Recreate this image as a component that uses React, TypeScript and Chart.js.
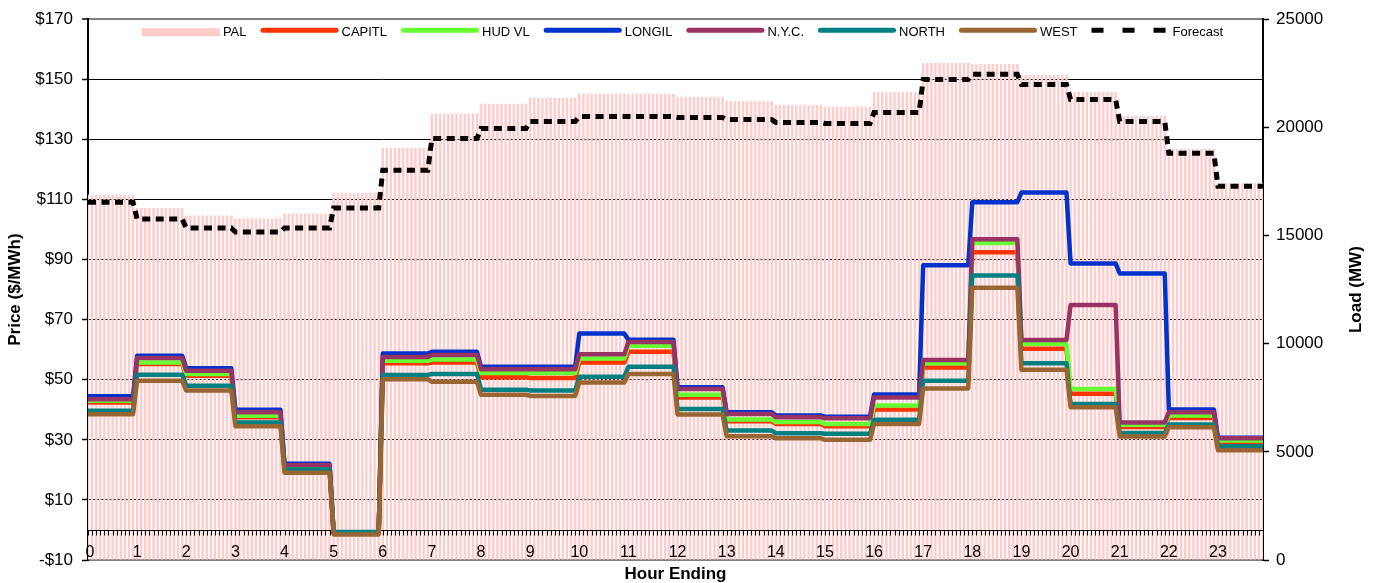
import React, { useEffect, useRef } from "react";
import { Chart, registerables } from "chart.js";

Chart.register(...registerables);

const FONT = "'Liberation Sans', Arial, Helvetica, sans-serif";

// Hour labels on the category axis (hour ending)
const HOUR_LABELS = [
  "0", "1", "2", "3", "4", "5", "6", "7", "8", "9", "10", "11",
  "12", "13", "14", "15", "16", "17", "18", "19", "20", "21", "22", "23",
];
const INTERVALS_PER_HOUR = 12; // 5-minute intervals

// Load (MW), right axis
const PAL = [
  16880, 16270, 15930, 15790, 16020, 16980, 19060, 20630, 21090, 21360, 21550, 21550,
  21410, 21220, 21040, 20950, 21640, 22970, 22930, 22420, 21640, 20530, 19000, 17420,
];
const FORECAST = [
  16540, 15760, 15350, 15160, 15350, 16270, 18020, 19480, 19950, 20270, 20500, 20500,
  20460, 20360, 20230, 20180, 20690, 22210, 22450, 21980, 21290, 20270, 18800, 17280,
];

// Prices ($/MWh), left axis
const CAPITL = [
  42.4, 55.2, 51.3, 37.5, 20.8, -1.0, 55.5, 55.7, 50.8, 50.6, 55.7, 59.3,
  44.1, 36.2, 35.3, 34.5, 40.1, 54.1, 92.4, 60.3, 45.3, 34.3, 37.3, 28.9,
];
const HUD_VL = [
  43.0, 55.7, 51.9, 38.0, 21.0, -1.0, 56.3, 56.7, 52.2, 52.2, 57.1, 61.3,
  45.0, 36.8, 35.9, 35.3, 41.4, 55.5, 95.5, 62.0, 46.9, 35.0, 38.1, 29.8,
];
const LONGIL = [
  44.5, 58.0, 53.8, 40.0, 22.0, -1.0, 58.7, 59.3, 54.3, 54.3, 65.4, 63.3,
  47.5, 39.2, 38.1, 37.7, 45.1, 88.1, 109.1, 112.3, 88.7, 85.4, 40.1, 30.7,
];
const NYC = [
  43.5, 57.2, 53.0, 39.2, 21.5, -1.0, 57.6, 58.2, 53.5, 53.5, 58.5, 62.6,
  46.9, 38.6, 37.5, 37.2, 44.1, 56.6, 96.8, 63.2, 74.9, 35.8, 39.2, 30.5,
];
const NORTH = [
  39.7, 51.7, 48.0, 35.8, 20.1, -0.7, 51.6, 51.9, 46.7, 46.4, 51.0, 54.3,
  40.3, 33.1, 32.2, 32.0, 36.7, 49.7, 84.7, 55.5, 41.9, 32.3, 35.1, 27.9,
];
const WEST = [
  38.5, 49.7, 46.4, 34.5, 19.0, -1.5, 50.2, 49.3, 45.0, 44.6, 49.1, 51.9,
  38.4, 31.2, 30.5, 30.0, 35.3, 47.1, 80.6, 53.3, 40.8, 31.1, 34.2, 26.5,
];

const N_POINTS = HOUR_LABELS.length * INTERVALS_PER_HOUR;
const INDEX = Array.from({ length: N_POINTS }, (_, i) => i);
// each hourly value holds over its twelve 5-minute intervals
const expand = (hourly: number[]) =>
  INDEX.map((i) => ({ x: i, y: hourly[Math.floor(i / INTERVALS_PER_HOUR)] }));

const zeroAxisPlugin = {
  id: "zeroAxis",
  afterDatasetDraw(chart: any, args: any) {
    if (args.index !== 0) return;
    const { ctx, chartArea, scales } = chart;
    const y0 = Math.round(scales.y.getPixelForValue(0)) + 0.5;
    ctx.save();
    ctx.strokeStyle = "#000";
    ctx.lineWidth = 1;
    ctx.beginPath();
    ctx.moveTo(chartArea.left, y0);
    ctx.lineTo(chartArea.right, y0);
    INDEX.forEach((i) => {
      const x = Math.round(scales.x.getPixelForValue(i)) + 0.5;
      ctx.moveTo(x, y0);
      ctx.lineTo(x, y0 + 5);
    });
    ctx.stroke();
    ctx.restore();
  },
};

const hourLabelPlugin = {
  id: "hourLabels",
  afterDatasetsDraw(chart: any) {
    const { ctx, chartArea, scales } = chart;
    ctx.save();
    ctx.font = `16px ${FONT}`;
    ctx.fillStyle = "#000";
    ctx.textAlign = "center";
    ctx.textBaseline = "middle";
    HOUR_LABELS.forEach((lab, h) => {
      const x = scales.x.getPixelForValue(h * INTERVALS_PER_HOUR);
      ctx.fillText(lab, x + (h === 0 ? 2 : 0), chartArea.bottom - 7);
    });
    ctx.restore();
  },
};

const legendPlugin = {
  id: "insideLegend",
  afterDraw(chart: any) {
    const { ctx, chartArea } = chart;
    const swatch = 78;
    const textGap = 3;
    const itemGap = 14;
    ctx.save();
    ctx.font = `13px ${FONT}`;
    const items = chart.data.datasets.map((ds: any) => ({
      ds,
      w: swatch + textGap + ctx.measureText(ds.label).width,
    }));
    const total =
      items.reduce((s: number, it: any) => s + it.w, 0) + itemGap * (items.length - 1);
    let x = (chartArea.left + chartArea.right) / 2 + 7 - total / 2;
    const y = chartArea.top + 13;
    items.forEach(({ ds, w }: any) => {
      if (ds.type === "bar") {
        ctx.fillStyle = ds.backgroundColor;
        ctx.fillRect(x, y - 4, swatch, 8);
      } else {
        const dashed = Array.isArray(ds.borderDash) && ds.borderDash.length > 0;
        ctx.beginPath();
        ctx.strokeStyle = ds.borderColor;
        ctx.lineWidth = 5;
        ctx.setLineDash(dashed ? [12, 19] : []);
        ctx.lineCap = dashed ? "butt" : "round";
        const yl = y - 2;
        ctx.moveTo(x + (dashed ? 0 : 2.5), yl);
        ctx.lineTo(x + swatch - (dashed ? 0 : 2.5), yl);
        ctx.stroke();
        ctx.setLineDash([]);
      }
      ctx.fillStyle = "#000";
      ctx.textAlign = "left";
      ctx.textBaseline = "middle";
      ctx.fillText(ds.label, x + swatch + textGap, y);
      x += w + itemGap;
    });
    ctx.restore();
  },
};

const rightTitlePlugin = {
  id: "rightTitle",
  afterDraw(chart: any) {
    const { ctx, chartArea } = chart;
    ctx.save();
    ctx.font = `bold 17px ${FONT}`;
    ctx.fillStyle = "#000";
    ctx.textAlign = "center";
    ctx.textBaseline = "middle";
    ctx.translate(chart.width - 23, (chartArea.top + chartArea.bottom) / 2);
    ctx.rotate(-Math.PI / 2);
    ctx.fillText("Load (MW)", 0, 0);
    ctx.restore();
  },
};

const lineDs = (label: string, data: number[], color: string, order: number) => ({
  type: "line" as const,
  label,
  data: expand(data),
  borderColor: color,
  backgroundColor: color,
  borderWidth: 4.5,
  pointRadius: 0,
  tension: 0,
  fill: false,
  borderJoinStyle: "round" as const,
  borderCapStyle: "round" as const,
  yAxisID: "y",
  order,
});

export default function App() {
  const ref = useRef<HTMLCanvasElement>(null);

  useEffect(() => {
    if (!ref.current) return;
    Chart.defaults.font.family = FONT;
    Chart.defaults.color = "#000";
    const chart = new Chart(ref.current, {
      type: "bar",
      data: {
        datasets: [
          {
            type: "bar",
            label: "PAL",
            data: expand(PAL),
            backgroundColor: "#FFCCCC",
            borderWidth: 0,
            barPercentage: 0.6,
            categoryPercentage: 1,
            yAxisID: "y1",
            order: 8,
          } as any,
          lineDs("CAPITL", CAPITL, "#FF3300", 7),
          lineDs("HUD VL", HUD_VL, "#66FF33", 6),
          lineDs("LONGIL", LONGIL, "#0033CC", 5),
          lineDs("N.Y.C.", NYC, "#993366", 4),
          lineDs("NORTH", NORTH, "#008080", 3),
          lineDs("WEST", WEST, "#996633", 2),
          {
            type: "line",
            label: "Forecast",
            data: expand(FORECAST),
            borderColor: "#000",
            backgroundColor: "#000",
            borderWidth: 5,
            borderDash: [8, 5.5],
            borderCapStyle: "butt",
            pointRadius: 0,
            tension: 0,
            fill: false,
            yAxisID: "y1",
            order: 1,
          } as any,
        ],
      },
      options: {
        responsive: false,
        animation: false,
        events: [],
        layout: { padding: { top: 17, left: 0, right: 0, bottom: 0 } },
        plugins: {
          legend: { display: false },
          tooltip: { enabled: false },
          title: { display: false },
        },
        scales: {
          x: {
            type: "linear",
            min: 0,
            max: N_POINTS - 1,
            offset: false,
            position: "bottom",
            grid: { display: false, drawTicks: false, offset: false },
            border: { display: true, color: "#808080", width: 2 },
            ticks: { display: false, stepSize: INTERVALS_PER_HOUR },
            title: {
              display: true,
              text: "Hour Ending",
              font: { size: 17, weight: "bold", lineHeight: 1 },
              padding: { top: 0, bottom: 0 },
            },
            afterFit: (s: any) => {
              s.height = 23;
            },
          } as any,
          y: {
            type: "linear",
            position: "left",
            min: -10,
            max: 170,
            grid: {
              color: (c: any) =>
                c.tick && (c.tick.value === 170 || c.tick.value === -10) ? "#808080" : "#000",
              lineWidth: (c: any) => (c.tick && c.tick.value === 170 ? 2 : 1),
              tickColor: "#000",
              tickLength: 6,
              tickWidth: 1.5,
            },
            border: { display: true, color: "#000", width: 2 },
            ticks: {
              stepSize: 20,
              padding: 9,
              font: { size: 17 },
              callback: (v: any) => (Number(v) < 0 ? `-$${-Number(v)}` : `$${v}`),
            },
            title: {
              display: true,
              text: "Price ($/MWh)",
              font: { size: 17, weight: "bold", lineHeight: 1.2 },
              padding: { top: 5, bottom: 0 },
            },
            afterFit: (s: any) => {
              s.width = 88;
            },
          } as any,
          y1: {
            type: "linear",
            position: "right",
            min: 0,
            max: 25000,
            grid: {
              drawOnChartArea: false,
              tickColor: "#000",
              tickLength: 6,
              tickWidth: 1.5,
            },
            border: { display: true, color: "#000", width: 2 },
            ticks: {
              stepSize: 5000,
              padding: 7,
              font: { size: 17 },
              callback: (v: any) => `${v}`,
            },
            afterFit: (s: any) => {
              s.width = 116;
            },
          } as any,
        },
      } as any,
      plugins: [zeroAxisPlugin, hourLabelPlugin, legendPlugin, rightTitlePlugin],
    });
    return () => chart.destroy();
  }, []);

  return (
    <div style={{ position: "fixed", left: 0, top: 0, width: 1379, height: 583, background: "#fff" }}>
      <canvas ref={ref} width={1379} height={583} style={{ display: "block" }} />
    </div>
  );
}
